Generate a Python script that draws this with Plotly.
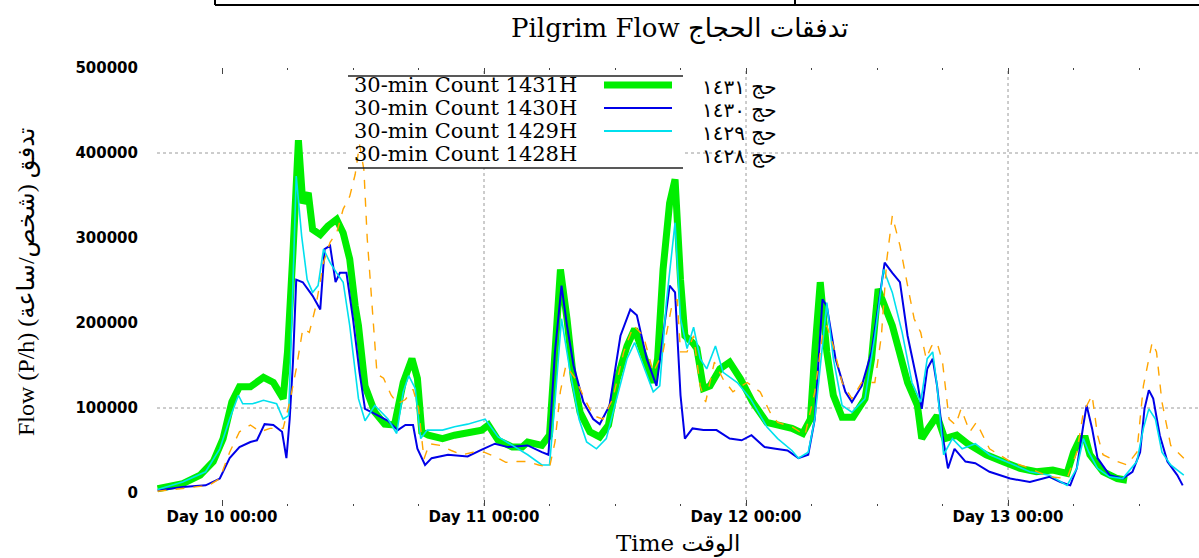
import plotly.graph_objects as go

# ---------------- data (hours from Day 10 00:00, persons/hour) ----------------
hours_1431 = [-5.9, -3.6, -2.0, -0.8, 0.1, 0.9, 1.6, 2.6, 3.8, 4.7, 5.6, 6.0, 6.5, 7.0, 7.4, 7.9,
              8.3, 9.0, 9.7, 10.5, 11.1, 11.7, 12.2, 12.5, 13.1, 14.0, 14.9, 15.8, 16.6, 17.4, 17.9,
              18.3, 18.9, 20.2, 21.3, 22.5, 23.8, 24.4, 25.3, 26.6, 27.5, 28.0, 29.3, 30.0, 30.5,
              31.0, 31.6, 32.2, 32.8, 33.7, 34.6, 35.4, 36.2, 37.1, 37.8, 38.6, 39.5, 39.9, 40.4,
              41.0, 41.5, 42.0, 42.4, 43.1, 43.5, 44.1, 44.7, 45.6, 46.5, 47.5, 48.6, 49.9, 50.9,
              52.2, 53.2, 53.9, 54.3, 54.8, 55.4, 56.0, 56.8, 57.8, 58.9, 59.5, 60.1, 60.7, 61.4,
              61.9, 62.8, 63.7, 64.1, 64.7, 65.5, 66.2, 67.3, 68.3, 70.0, 71.5, 73.1, 74.6, 76.1,
              77.4, 78.0, 78.6, 79.1, 79.5, 80.7, 82.0, 82.9]
flow_1431 = [5000, 11000, 21000, 37000, 64000, 107000, 125000, 125000, 136000, 130000, 111000, 166000,
             283000, 415000, 341000, 353000, 310000, 304000, 314000, 322000, 306000, 275000, 220000,
             197000, 126000, 95000, 81000, 80000, 130000, 158000, 135000, 72000, 68000, 64000, 68000,
             70000, 74000, 80000, 62000, 54000, 54000, 60000, 56000, 68000, 166000, 263000, 205000,
             134000, 95000, 72000, 66000, 80000, 134000, 173000, 193000, 166000, 130000, 158000, 263000,
             341000, 369000, 251000, 185000, 177000, 170000, 123000, 126000, 146000, 154000, 134000,
             107000, 83000, 80000, 76000, 70000, 87000, 166000, 248000, 166000, 115000, 89000, 89000,
             111000, 158000, 240000, 220000, 197000, 173000, 130000, 103000, 64000, 76000, 91000,
             64000, 68000, 58000, 45000, 37000, 29000, 25000, 27000, 23000, 48000, 64000, 64000, 45000,
             25000, 17000, 15000]

hours_1430 = [-5.9, -3.6, -1.5, -0.2, 0.7, 1.6, 2.6, 3.2, 3.9, 4.7, 5.5, 5.9, 6.2, 6.5, 6.8, 7.4, 8.3,
              9.0, 9.4, 9.9, 10.4, 10.8, 11.4, 12.0, 12.6, 13.1, 14.0, 15.2, 16.1, 16.8, 17.5, 17.9,
              18.6, 19.2, 20.7, 22.5, 23.8, 25.0, 26.2, 28.0, 29.3, 29.9, 30.5, 31.1, 31.6, 32.2,
              33.1, 34.0, 34.6, 35.5, 36.5, 37.4, 38.0, 38.9, 39.8, 40.4, 41.0, 41.5, 42.0, 42.4,
              43.1, 44.1, 45.3, 46.5, 47.6, 48.5, 49.7, 50.7, 51.8, 52.8, 53.7, 54.3, 55.0, 55.4,
              56.2, 57.1, 57.7, 58.6, 59.5, 60.3, 60.7, 61.4, 62.1, 62.8, 63.7, 64.1, 64.6, 65.1,
              65.5, 66.0, 66.5, 67.1, 68.1, 69.0, 70.3, 72.2, 74.0, 75.8, 76.8, 77.7, 78.3, 78.9,
              79.2, 79.7, 80.2, 81.3, 82.5, 83.4, 84.1, 84.5, 84.9, 85.3, 85.9, 86.6, 87.5, 88.0]
flow_1430 = [3000, 7000, 9000, 17000, 41000, 54000, 60000, 62000, 81000, 80000, 72000, 41000, 87000,
             154000, 251000, 248000, 232000, 216000, 287000, 291000, 248000, 259000, 259000, 205000,
             142000, 99000, 93000, 85000, 74000, 80000, 80000, 52000, 33000, 41000, 45000, 43000,
             51000, 58000, 54000, 56000, 48000, 45000, 166000, 244000, 197000, 150000, 107000, 87000,
             81000, 103000, 185000, 216000, 209000, 158000, 126000, 185000, 244000, 236000, 115000,
             64000, 76000, 74000, 74000, 64000, 62000, 68000, 54000, 52000, 50000, 41000, 45000,
             87000, 228000, 220000, 158000, 119000, 107000, 126000, 166000, 236000, 271000, 259000,
             248000, 185000, 130000, 99000, 146000, 158000, 126000, 68000, 29000, 52000, 37000,
             35000, 25000, 17000, 13000, 19000, 13000, 9000, 29000, 80000, 103000, 76000, 41000,
             21000, 17000, 25000, 48000, 99000, 121000, 111000, 68000, 37000, 21000, 9000]

hours_1429 = [-5.9, -3.6, -1.5, -0.2, 0.7, 1.5, 1.9, 2.8, 3.8, 5.0, 5.6, 6.1, 6.4, 6.8, 7.3, 7.8, 8.3,
              8.8, 9.3, 9.9, 10.5, 11.1, 11.7, 12.5, 13.1, 14.0, 15.2, 16.0, 16.6, 17.1, 17.7, 18.2,
              18.8, 20.2, 21.3, 22.5, 24.1, 25.3, 26.6, 28.0, 29.3, 30.0, 30.5, 31.1, 31.9, 32.7,
              33.4, 34.3, 35.2, 36.2, 37.1, 37.8, 38.6, 39.5, 40.1, 40.7, 41.5, 42.0, 42.6, 43.2,
              43.8, 44.4, 45.2, 45.9, 47.2, 48.4, 49.9, 50.9, 52.2, 52.8, 53.7, 54.3, 55.0, 55.4,
              56.0, 56.8, 57.7, 58.9, 59.8, 60.6, 61.4, 62.3, 63.2, 64.0, 64.6, 65.1, 65.5, 66.1,
              66.9, 67.8, 69.0, 70.3, 72.2, 74.0, 75.8, 77.4, 78.3, 78.9, 79.4, 80.2, 81.3, 82.5,
              83.8, 84.4, 84.9, 85.5, 86.1, 86.9, 88.1]
flow_1429 = [4000, 13000, 25000, 52000, 87000, 115000, 105000, 105000, 109000, 105000, 87000, 91000,
             205000, 373000, 302000, 251000, 236000, 244000, 287000, 271000, 259000, 248000, 197000,
             111000, 85000, 103000, 87000, 70000, 119000, 138000, 123000, 64000, 74000, 74000, 78000,
             81000, 87000, 66000, 56000, 45000, 33000, 33000, 107000, 205000, 142000, 87000, 60000,
             52000, 64000, 115000, 158000, 177000, 150000, 119000, 126000, 224000, 318000, 205000,
             170000, 195000, 158000, 146000, 173000, 142000, 130000, 111000, 78000, 64000, 50000,
             41000, 48000, 87000, 173000, 224000, 158000, 103000, 95000, 111000, 185000, 263000,
             236000, 189000, 130000, 107000, 158000, 166000, 126000, 45000, 64000, 52000, 58000,
             45000, 35000, 25000, 21000, 9000, 29000, 64000, 48000, 29000, 19000, 17000, 37000,
             76000, 99000, 87000, 48000, 33000, 21000]

hours_1428 = [-5.9, -3.6, -1.2, -0.2, 0.7, 1.6, 2.6, 3.5, 4.4, 5.6, 6.2, 6.8, 7.4, 8.0, 8.6, 9.3, 9.9,
              10.5, 11.1, 11.7, 12.2, 12.6, 13.0, 13.3, 13.8, 14.2, 14.8, 15.5, 16.1, 16.8, 17.5,
              18.0, 18.5, 19.0, 20.0, 21.0, 22.0, 23.0, 24.0, 25.0, 26.0, 27.0, 28.0, 29.0, 30.0,
              30.5, 31.0, 31.5, 32.4, 33.2, 34.0, 34.9, 35.8, 36.8, 37.7, 38.6, 39.5, 40.4, 41.2,
              41.7, 42.0, 42.6, 43.2, 43.8, 44.3, 45.1, 45.9, 46.8, 48.1, 49.3, 50.2, 50.9, 52.2,
              53.4, 54.3, 55.0, 55.4, 56.0, 56.8, 57.7, 58.6, 59.8, 60.4, 60.9, 61.4, 62.1, 62.8,
              63.4, 64.0, 64.5, 65.0, 65.5, 66.0, 66.6, 67.2, 67.7, 68.5, 69.1, 70.3, 72.2, 74.0,
              75.8, 77.4, 78.3, 78.9, 79.7, 80.2, 80.7, 82.0, 82.9, 83.8, 84.4, 85.2, 85.6, 86.1,
              86.9, 88.1]
flow_1428 = [2000, 5000, 9000, 17000, 48000, 72000, 80000, 72000, 76000, 76000, 107000, 146000,
             193000, 189000, 220000, 271000, 295000, 306000, 334000, 349000, 375000, 410000, 380000,
             300000, 210000, 140000, 135000, 115000, 105000, 110000, 122000, 100000, 40000, 58000,
             56000, 50000, 45000, 48000, 48000, 43000, 36000, 37000, 37000, 33000, 30000, 60000,
             120000, 150000, 134000, 111000, 91000, 87000, 111000, 166000, 197000, 185000, 142000,
             166000, 220000, 228000, 166000, 166000, 185000, 126000, 107000, 154000, 134000, 119000,
             130000, 119000, 95000, 83000, 78000, 68000, 119000, 185000, 197000, 173000, 130000,
             111000, 130000, 130000, 185000, 275000, 326000, 291000, 244000, 205000, 189000, 158000,
             173000, 177000, 154000, 87000, 80000, 99000, 72000, 83000, 52000, 37000, 29000, 19000,
             17000, 48000, 95000, 115000, 68000, 45000, 37000, 33000, 48000, 126000, 177000, 166000,
             107000, 56000, 41000]

series_names = ["30-min Count 1431H", "30-min Count 1430H", "30-min Count 1429H", "30-min Count 1428H"]
arabic_names = ["حج ١٤٣١", "حج ١٤٣٠", "حج ١٤٢٩", "حج ١٤٢٨"]
day_ticks = [0, 24, 48, 72]
day_labels = ["Day 10 00:00", "Day 11 00:00", "Day 12 00:00", "Day 13 00:00"]
y_ticks = [0, 100000, 200000, 300000, 400000, 500000]
y_grid = [100000, 400000]

colors = ["#00ee00", "#0000e8", "#00e0ee", "#ffa500"]
widths = [7, 2, 1.6, 1.4]
dashes = ["solid", "solid", "solid", "dash"]

# ---------------- geometry helpers (pixel -> paper) ----------------
W, H = 1199, 558
L, R, T, B = 157, 0, 68, 52
PW, PH = W - L - R, H - T - B
def px(x):
    return (x - L) / PW
def py(y):
    return (H - B - y) / PH

fig = go.Figure()
all_h = [hours_1431, hours_1430, hours_1429, hours_1428]
all_v = [flow_1431, flow_1430, flow_1429, flow_1428]
for i in range(4):
    fig.add_trace(go.Scatter(x=all_h[i], y=all_v[i], mode="lines", name=series_names[i],
                             line=dict(color=colors[i], width=widths[i], dash=dashes[i]),
                             showlegend=False))

shapes = []
grid_style = dict(color="#9a9a9a", width=1, dash="dot")
for gv in y_grid:
    shapes.append(dict(type="line", xref="paper", yref="y", x0=0, x1=1, y0=gv, y1=gv,
                       line=grid_style, layer="below"))
for dt in day_ticks[1:]:
    shapes.append(dict(type="line", xref="x", yref="paper", x0=dt, x1=dt, y0=0, y1=1,
                       line=grid_style, layer="below"))
# legend box (white background with top and bottom rules)
shapes.append(dict(type="rect", xref="paper", yref="paper", x0=px(348), x1=px(683), y0=py(168), y1=py(76),
                   fillcolor="white", line=dict(width=0), layer="below"))
for yy in (76, 168):
    shapes.append(dict(type="line", xref="paper", yref="paper", x0=px(348), x1=px(683), y0=py(yy), y1=py(yy),
                       line=dict(color="#222222", width=1.5)))
row_y = [85, 108, 131, 154]
for i in range(3):
    shapes.append(dict(type="line", xref="paper", yref="paper", x0=px(604), x1=px(672),
                       y0=py(row_y[i]), y1=py(row_y[i]),
                       line=dict(color=colors[i], width=widths[i] if i == 0 else 2)))
# page table border at the very top
shapes.append(dict(type="line", xref="paper", yref="paper", x0=px(215), x1=px(1199), y0=py(5), y1=py(5),
                   line=dict(color="black", width=2)))
for xv in (215, 795):
    shapes.append(dict(type="line", xref="paper", yref="paper", x0=px(xv), x1=px(xv), y0=py(5), y1=py(-2),
                       line=dict(color="black", width=2)))

serif = "DejaVu Serif, DejaVu Sans, serif"
annotations = []
annotations.append(dict(text="Pilgrim Flow تدفقات الحجاج", x=px(680), y=py(28), xref="paper", yref="paper",
                        showarrow=False, font=dict(family=serif, size=26, color="black"),
                        xanchor="center", yanchor="middle"))
annotations.append(dict(text="Time الوقت", x=px(678), y=py(543), xref="paper", yref="paper",
                        showarrow=False, font=dict(family=serif, size=23, color="black"),
                        xanchor="center", yanchor="middle"))
LRM = "\u200e"
ytitle = "Flow (P/h) (" + "ساعة" + LRM + "/" + LRM + "شخص" + LRM + ") " + "تدفق"
annotations.append(dict(text=ytitle, x=px(26), y=py(282), xref="paper", yref="paper", textangle=-90,
                        showarrow=False, font=dict(family="Liberation Serif, DejaVu Sans, serif", size=24,
                                                   color="black"),
                        xanchor="center", yanchor="middle"))
for i in range(4):
    annotations.append(dict(text=series_names[i], x=px(352), y=py(row_y[i]), xref="paper", yref="paper",
                            showarrow=False, font=dict(family=serif, size=21, color="black"),
                            xanchor="left", yanchor="middle"))
    annotations.append(dict(text=arabic_names[i], x=px(700), y=py(row_y[i] + 2), xref="paper", yref="paper",
                            showarrow=False, font=dict(family="DejaVu Sans, sans-serif", size=20, color="black"),
                            xanchor="left", yanchor="middle"))

tickfont = dict(family="DejaVu Sans, sans-serif", size=15, color="black", weight="bold")
fig.update_layout(
    width=W, height=H,
    margin=dict(l=L, r=R, t=T, b=B, pad=0),
    paper_bgcolor="white", plot_bgcolor="white",
    shapes=shapes, annotations=annotations,
    xaxis=dict(range=[(157 - 222) / 10.917, (1199 - 222) / 10.917], tickmode="array",
               tickvals=day_ticks, ticktext=day_labels, showgrid=False, zeroline=False, showline=False,
               ticks="inside", ticklen=6, tickwidth=1, tickcolor="#444", mirror="ticks",
               minor=dict(dtick=6, tick0=0, ticks="inside", ticklen=2, tickcolor="#444", showgrid=False),
               tickfont=tickfont),
    yaxis=dict(range=[-15300, 500000], tickmode="array", tickvals=y_ticks,
               ticktext=[str(v) for v in y_ticks], showgrid=False, zeroline=False, showline=False,
               ticks="", ticklabelstandoff=18, tickfont=tickfont),
)

fig.write_html("out.html", config={"displayModeBar": False},
               post_script="document.body.style.margin='0px';document.body.style.overflow='hidden';")
